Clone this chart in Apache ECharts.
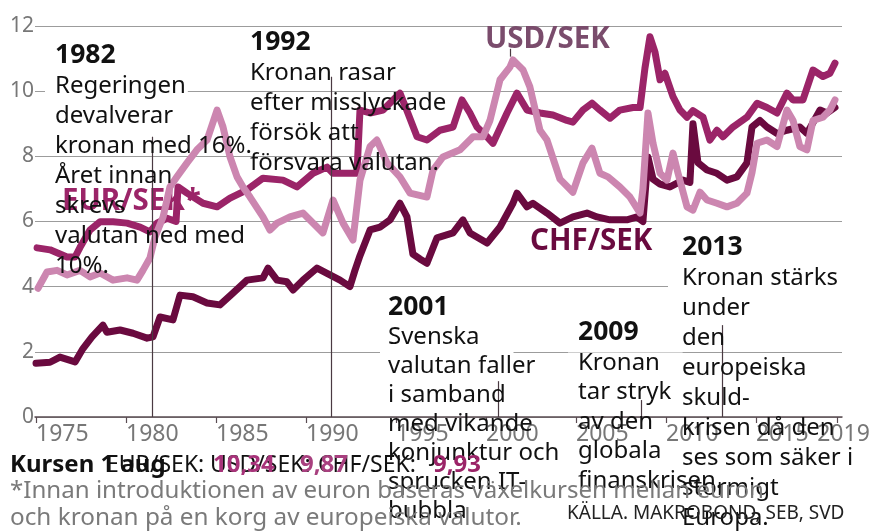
<!DOCTYPE html>
<html><head><meta charset="utf-8">
<script src="https://cdn.jsdelivr.net/npm/echarts@6/dist/echarts.min.js"></script>
<style>html,body{margin:0;padding:0;background:#fff}#c{width:872px;height:532px}</style>
</head><body><div id="c"></div>
<script>
// ---- data (decimal year, SEK) ----
const eurSek = [[1975.06,5.19],[1975.78,5.13],[1976.72,4.91],[1977.17,4.91],[1977.44,5.2],[1978.0,5.74],[1978.56,5.99],[1979.28,5.99],[1980.06,5.95],[1980.78,5.83],[1981.33,5.68],[1981.72,5.95],[1982.28,6.1],[1982.78,6.0],[1982.89,7.06],[1983.39,6.87],[1984.28,6.56],[1985.06,6.45],[1985.78,6.72],[1986.72,6.97],[1987.61,7.33],[1988.72,7.27],[1989.5,7.06],[1990.39,7.48],[1991.17,7.67],[1991.5,7.48],[1992.28,7.48],[1992.83,7.48],[1993.0,9.42],[1993.56,9.33],[1994.28,9.42],[1995.22,9.94],[1995.61,9.4],[1996.17,8.6],[1996.72,8.5],[1997.44,8.8],[1998.17,8.9],[1998.67,9.73],[1999.11,9.33],[1999.5,8.9],[2000.06,8.6],[2000.39,8.4],[2001.17,9.33],[2001.72,9.94],[2002.28,9.42],[2003.0,9.33],[2003.72,9.27],[2004.5,9.1],[2004.83,9.05],[2005.39,9.42],[2005.89,9.63],[2006.33,9.42],[2006.89,9.17],[2007.44,9.42],[2008.17,9.5],[2008.56,9.5],[2008.83,10.7],[2009.11,11.67],[2009.39,11.2],[2009.67,10.35],[2009.94,10.55],[2010.39,9.83],[2010.78,9.42],[2011.17,9.2],[2011.5,9.4],[2012.06,9.2],[2012.44,8.5],[2012.83,8.8],[2013.17,8.6],[2013.72,8.9],[2014.5,9.2],[2015.06,9.63],[2015.61,9.5],[2016.17,9.33],[2016.72,9.94],[2017.06,9.73],[2017.61,9.73],[2018.17,10.65],[2018.72,10.45],[2019.11,10.55],[2019.39,10.86]];
const usdSek = [[1975.11,3.95],[1975.61,4.45],[1976.17,4.5],[1976.72,4.36],[1977.44,4.5],[1978.0,4.3],[1978.56,4.42],[1979.28,4.2],[1980.06,4.27],[1980.61,4.2],[1980.94,4.5],[1981.33,4.88],[1981.61,5.52],[1982.06,6.14],[1982.44,7.06],[1982.83,7.37],[1983.39,7.8],[1983.94,8.2],[1984.5,8.5],[1985.06,9.42],[1985.39,8.9],[1985.78,7.98],[1986.17,7.37],[1986.5,7.06],[1986.89,6.75],[1987.61,6.14],[1988.0,5.74],[1988.39,5.95],[1989.11,6.14],[1989.83,6.26],[1990.61,5.83],[1990.94,5.65],[1991.5,6.66],[1992.06,5.95],[1992.61,5.43],[1993.0,7.27],[1993.56,8.3],[1993.94,8.5],[1994.5,7.8],[1995.22,7.37],[1995.78,6.87],[1996.72,6.75],[1997.06,7.58],[1997.61,7.98],[1998.56,8.2],[1999.28,8.6],[1999.83,8.6],[2000.22,9.1],[2000.78,10.35],[2001.33,10.74],[2001.5,10.96],[2002.06,10.65],[2002.44,10.13],[2003.0,8.8],[2003.39,8.5],[2004.11,7.3],[2004.83,6.9],[2005.39,7.8],[2005.89,8.25],[2006.33,7.48],[2006.78,7.37],[2007.44,7.06],[2008.0,6.75],[2008.56,6.26],[2008.72,7.0],[2009.0,9.33],[2009.28,8.4],[2009.67,7.48],[2010.06,7.27],[2010.39,8.1],[2010.67,7.48],[2011.17,6.45],[2011.5,6.35],[2011.89,6.9],[2012.28,6.66],[2012.83,6.56],[2013.39,6.45],[2013.94,6.56],[2014.5,6.87],[2014.78,7.5],[2015.06,8.4],[2015.61,8.5],[2016.17,8.3],[2016.72,9.42],[2017.06,9.1],[2017.44,8.3],[2017.83,8.2],[2018.17,9.1],[2018.72,9.2],[2019.11,9.42],[2019.39,9.73]];
const chfSek = [[1975.0,1.65],[1975.78,1.68],[1976.33,1.84],[1977.17,1.69],[1977.61,2.1],[1978.11,2.46],[1978.72,2.82],[1978.94,2.6],[1979.67,2.67],[1980.39,2.57],[1981.17,2.42],[1981.5,2.46],[1981.89,3.07],[1982.61,2.98],[1983.0,3.74],[1983.72,3.69],[1984.5,3.5],[1985.22,3.44],[1985.94,3.8],[1986.72,4.2],[1987.61,4.27],[1987.89,4.57],[1988.39,4.2],[1988.94,4.15],[1989.28,3.9],[1989.83,4.2],[1990.61,4.57],[1991.33,4.36],[1991.89,4.2],[1992.44,4.0],[1992.72,4.5],[1993.0,4.95],[1993.56,5.74],[1994.11,5.83],[1994.67,6.05],[1995.22,6.56],[1995.61,6.14],[1995.94,5.0],[1996.33,4.85],[1996.72,4.72],[1997.28,5.5],[1998.17,5.65],[1998.72,6.05],[1999.11,5.65],[2000.06,5.34],[2000.78,5.83],[2001.5,6.56],[2001.72,6.87],[2002.28,6.45],[2002.61,6.56],[2003.39,6.26],[2004.11,5.95],[2004.83,6.14],[2005.61,6.26],[2006.17,6.14],[2006.89,6.05],[2007.83,6.05],[2008.39,6.14],[2008.72,6.0],[2009.0,7.98],[2009.28,7.3],[2009.67,7.15],[2010.22,7.06],[2010.94,7.27],[2011.33,7.2],[2011.5,9.0],[2011.78,7.8],[2012.28,7.58],[2012.83,7.48],[2013.39,7.27],[2013.94,7.37],[2014.5,7.8],[2014.78,8.9],[2015.22,9.1],[2015.61,8.9],[2016.17,8.7],[2016.72,8.8],[2017.44,8.9],[2017.83,8.7],[2018.56,9.42],[2018.94,9.33],[2019.39,9.5]];

const yTicks = [0, 2, 4, 6, 8, 10, 12];
const xTickYears = [1975, 1980, 1985, 1990, 1995, 2000, 2005, 2010, 2015, 2019.5];
const xLabelYears = [1975, 1980, 1985, 1990, 1995, 2000, 2005, 2010, 2015, 2018.4];
const xLabels = ['1975','1980','1985','1990','1995','2000','2005','2010','2015','2019'];

// annotation leader lines: year, top value, bottom value
const annoYears = [1981.44, 1991.39, 2000.67, 2008.61, 2013.11, 2001.33];
const annoTops = [8.6, 10.44, 1.1, 0.52, 2.82, 11.3];
const annoBottoms = [0, 0, 0, 0, 0, 11.06];

const annotations = [
  {x: 55, y: 65, lines: ['1982','Regeringen','devalverar','kronan med 16%.','Året innan','skrevs','valutan ned med','10%.']},
  {x: 250, y: 52, lines: ['1992','Kronan rasar','efter misslyckade','försök att','försvara valutan.']},
  {x: 388, y: 317, lines: ['2001','Svenska','valutan faller','i samband','med vikande','konjunktur och','sprucken IT-','bubbla'], step: 29},
  {x: 578, y: 342, lines: ['2009','Kronan','tar stryk','av den','globala','finanskrisen.'], step: 29.5},
  {x: 682, y: 257, lines: ['2013','Kronan stärks','under','den','europeiska','skuld-','krisen då den','ses som säker i','stormigt','Europa.']}
];
// white masks behind some text lines: "block-line": padding
const masks = {'0-1':[2,2,4,10], '2-1':[0,34,9,8], '3-0':[0,44,13,10], '4-1':[2,10,4,14]};

const FONT = '"Noto Sans", "DejaVu Sans", sans-serif';
const C_EUR = '#9b2468', C_USD = '#cc86b0', C_CHF = '#6a0a3f';

const graphics = [];
function addText(x, baseline, text, size, weight, fill, extra) {
  const el = {
    type: 'text', z: 100, silent: true,
    style: Object.assign({
      x: x, y: baseline - size * 0.36, text: text,
      font: weight + ' ' + size + 'px ' + FONT,
      fill: fill, verticalAlign: 'middle', align: 'left'
    }, extra || {})
  };
  graphics.push(el);
  return el;
}
annotations.forEach((b, bi) => {
  const step = b.step || 30;
  b.lines.forEach((ln, li) => {
    const key = bi + '-' + li;
    const extra = masks[key] ? {backgroundColor: '#fff', padding: masks[key]} : null;
    const x = extra ? b.x - masks[key][3] : b.x;
    addText(x, b.y + li * step, ln, li === 0 ? 26.5 : 24, li === 0 ? 'bold' : 'normal', '#111', extra);
  });
});
// series labels
const eurLab = addText(56, 212, 'EUR/SEK*', 29.5, 'bold', C_EUR, {backgroundColor:'#fff', padding:[0,6,6,6]});
eurLab.z = 1;
addText(485, 50, 'USD/SEK', 29.5, 'bold', '#7a4c6c');
addText(530, 252, 'CHF/SEK', 29.5, 'bold', C_CHF);
// footer
addText(10, 474, 'Kursen 1 aug', 24, 'bold', '#111');
addText(106, 474, 'EUR/SEK:', 23, 'normal', '#111');
addText(210, 474, 'USD/SEK:', 23, 'normal', '#111');
addText(318, 474, 'CHF/SEK:', 23, 'normal', '#111');
addText(213, 474, '10,34', 24, 'bold', '#a8337a');
addText(300, 474, '9,87', 24, 'bold', '#a8407f');
addText(433, 474, '9,93', 24, 'bold', C_EUR);
addText(10, 500, '*Innan introduktionen av euron baseras växelkursen mellan euron', 24.1, 'normal', '#7a7a7a');
addText(10, 527, 'och kronan på en korg av europeiska valutor.', 24.3, 'normal', '#7a7a7a');
addText(567, 520, 'KÄLLA. MAKROBOND, SEB, SVD', 19, 'normal', '#222');

const markData = annoYears.map((yr, i) => [{coord: [yr, annoTops[i]]}, {coord: [yr, annoBottoms[i]]}]);

function lineSeries(name, data, color, extra) {
  return Object.assign({
    type: 'line', name: name, data: data, symbol: 'none', showSymbol: false,
    lineStyle: {color: color, width: 7, cap: 'round', join: 'round'},
    animation: false, z: 2, silent: true
  }, extra || {});
}

const option = {
  animation: false,
  grid: {left: 35, right: 30, top: 26, bottom: 115, containLabel: false},
  xAxis: {
    type: 'value', min: 1974.944, max: 2019.78,
    axisLine: {show: true, lineStyle: {color: '#5a4c52', width: 1.5}},
    axisTick: {show: true, customValues: xTickYears, length: 6, lineStyle: {color: '#5a4c52', width: 1.2}},
    axisLabel: {show: false},
    splitLine: {show: false}
  },
  yAxis: {
    type: 'value', min: 0, max: 12, interval: 2,
    axisLine: {show: false}, axisTick: {show: false},
    axisLabel: {color: '#777', fontSize: 21, fontFamily: FONT, margin: 1,
      formatter: v => yTicks.includes(v) ? String(v) : ''},
    splitLine: {show: true, lineStyle: {color: '#9c9c9c', width: 1.2}}
  },
  series: [
    lineSeries('EUR/SEK', eurSek, C_EUR),
    lineSeries('CHF/SEK', chfSek, C_CHF),
    lineSeries('USD/SEK', usdSek, C_USD, {
      markLine: {silent: true, symbol: 'none', animation: false,
        label: {show: false}, lineStyle: {color: '#4a3a42', width: 1.2, type: 'solid'},
        emphasis: {disabled: true}, data: markData}
    })
  ]
};
const chart = echarts.init(document.getElementById('c'));
chart.setOption(option);
// x-axis tick labels, placed through the axis scale
const xLabelEls = xLabelYears.map((yr, i) => {
  const px = chart.convertToPixel({xAxisIndex: 0}, yr);
  return {type: 'text', z: 50, silent: true,
    style: {x: px, y: 443 - 23 * 0.36, text: xLabels[i], font: 'normal 23px ' + FONT,
      fill: '#777', verticalAlign: 'middle', align: 'left'}};
});
chart.setOption({graphic: {elements: xLabelEls.concat(graphics)}});
</script>
</body></html>
